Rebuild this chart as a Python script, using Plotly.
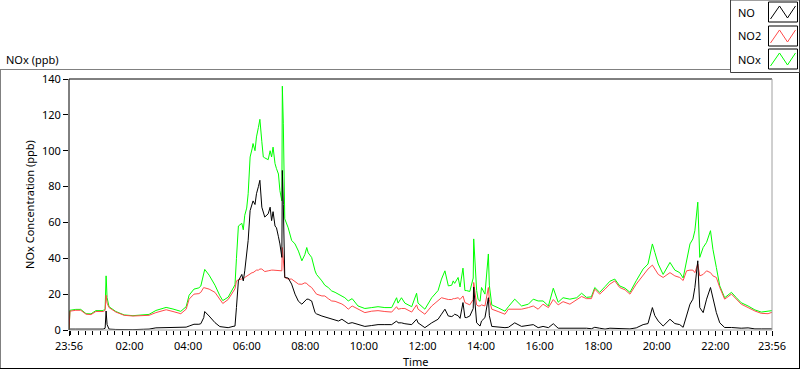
import plotly.graph_objects as go
from datetime import datetime, timedelta

# ---- data ----
times = [
    "23:56", "23:58", "00:10", "00:20", "00:31", "00:41", "00:51", "01:06", "01:10", "01:12",
    "01:14", "01:18", "01:32", "01:49", "02:07", "02:28", "02:40", "02:54", "03:15", "03:29",
    "03:45", "03:56", "04:02", "04:12", "04:22", "04:26", "04:32", "04:34", "04:43", "04:55",
    "05:05", "05:11", "05:22", "05:32", "05:36", "05:39", "05:43", "05:50", "05:53", "05:56",
    "06:00", "06:03", "06:07", "06:11", "06:13", "06:17", "06:20", "06:24", "06:27", "06:31",
    "06:34", "06:37", "06:44", "06:48", "06:51", "06:54", "06:58", "07:01", "07:05", "07:08",
    "07:12", "07:13", "07:15", "07:18", "07:25", "07:32", "07:39", "07:46", "07:53", "07:59",
    "08:03", "08:06", "08:13", "08:20", "08:23", "08:34", "08:40", "08:47", "08:54", "09:01",
    "09:08", "09:15", "09:21", "09:28", "09:36", "09:48", "10:02", "10:16", "10:29", "10:43",
    "10:57", "11:07", "11:10", "11:17", "11:24", "11:38", "11:48", "11:51", "12:05", "12:19",
    "12:32", "12:39", "12:46", "12:53", "13:00", "13:03", "13:06", "13:13", "13:17", "13:23",
    "13:27", "13:30", "13:37", "13:44", "13:45", "13:51", "13:54", "13:58", "14:01", "14:08",
    "14:15", "14:17", "14:22", "14:35", "14:49", "14:56", "15:09", "15:23", "15:37", "15:47",
    "15:57", "16:07", "16:18", "16:28", "16:38", "16:48", "17:02", "17:16", "17:26", "17:36",
    "17:46", "17:53", "18:03", "18:14", "18:24", "18:34", "18:44", "18:55", "19:05", "19:18",
    "19:32", "19:42", "19:51", "19:56", "20:03", "20:13", "20:27", "20:37", "20:47", "20:54",
    "21:01", "21:08", "21:14", "21:18", "21:24", "21:28", "21:35", "21:42", "21:50", "21:55",
    "22:02", "22:09", "22:19", "22:33", "22:43", "22:53", "23:07", "23:21", "23:34", "23:48",
    "23:56",
]

no_ppb = [
    0, 0.5, 0.5, 0.5, 0.3, 0.3, 0.5, 0.5, 1, 10.6,
    3, 0.5, 0.3, 0.2, 0.2, 0.4, 0.5, 1.2, 1.3, 1.4,
    1.3, 1.6, 2.2, 3.2, 3.2, 3.5, 6.9, 10.3, 7.8, 4.1,
    1.9, 1.6, 1.3, 2, 2.2, 12.5, 27.4, 31, 27.4, 33,
    42.4, 50, 66.6, 70, 72, 70, 76, 80, 83.5, 68.5,
    65, 63, 64.8, 68.5, 61, 66, 58, 57, 52, 48,
    40.5, 89, 70, 29.3, 29, 25.6, 20, 16, 14.4, 16.2,
    17.2, 17.2, 16.2, 9.7, 9, 7.8, 7.3, 6.9, 6, 5.4,
    5, 6, 4.8, 3.6, 4.1, 3, 2, 2.5, 3, 3,
    3, 5, 4, 4, 3.5, 3, 6, 4, 1.3, 4,
    6, 8.8, 11.6, 7.8, 7.5, 8, 8.8, 8, 6.5, 15.3,
    7, 6.9, 7.8, 12, 24, 4, 3, 2.2, 5, 6.9,
    18, 8, 2, 1.5, 1.3, 1.5, 4, 2, 2.5, 3,
    1.3, 2, 1.3, 3.5, 1, 1, 1, 1.2, 1, 1,
    0.7, 1.5, 1, 0.5, 1, 1, 1, 0.6, 0.6, 1.2,
    3, 3.6, 12.5, 8, 5, 2.2, 6, 3.6, 3, 1.5,
    8, 14.4, 17.2, 23.7, 38.6, 12.5, 9.7, 17.2, 23.7, 17,
    9.7, 4, 1.4, 1.4, 1.2, 1, 1.2, 0.6, 0.6, 0.6,
    0.6,
]

no2_ppb = [
    0, 10.5, 11, 11, 8.8, 8.6, 10.3, 10.3, 11, 19.4,
    15, 12.5, 10, 8.2, 7.8, 7.8, 8.2, 9.7, 11.3, 10.3,
    9.1, 11.6, 17.2, 20, 20.3, 21, 23.7, 23.5, 22.8, 21,
    17.2, 14.8, 17, 21.5, 23, 27.4, 28, 28.5, 28.5, 29.3,
    30, 31, 31.5, 32, 32, 33, 33.4, 33.4, 34, 34,
    33, 32.6, 33, 33.4, 33.4, 33.4, 33.4, 33.4, 33.4, 33,
    33, 46, 40, 29.3, 28.4, 28.4, 27, 25.6, 25.5, 26.3,
    26, 25, 23.7, 21, 20, 19, 19, 17.5, 16.2, 16,
    15.3, 14.5, 13.4, 11.6, 13.4, 11.6, 9.7, 10.5, 10.8, 10.3,
    10, 13, 11.6, 12, 12, 10, 14, 11.6, 8.8, 13.4,
    16.2, 18, 17.5, 17, 17, 17.5, 17.5, 18, 17, 19,
    15.3, 15, 14, 17, 26.5, 14, 13.4, 13.4, 14, 13.4,
    23.7, 17, 11.6, 10.3, 8.8, 11.6, 11.6, 11.6, 12.5, 13.4,
    11.6, 14.4, 12.5, 17, 14, 15.8, 14.4, 17, 18.7, 17.5,
    17.5, 22.8, 20, 22.8, 25.6, 27.4, 23.7, 22.4, 20, 25.6,
    30.8, 34, 36.2, 34, 31, 29.3, 32, 30.2, 29.3, 27.6,
    33, 33.4, 33.4, 32, 36.8, 30.2, 31, 33, 32, 30.2,
    29.3, 23.7, 17.2, 20, 17.2, 14.4, 12.5, 10.6, 9.3, 9.1,
    9.9,
]

nox_ppb = [
    0, 11, 11.5, 11.5, 9.1, 9, 10.8, 10.8, 12, 30.2,
    18, 13, 10.3, 8.4, 8, 8.2, 8.7, 10.9, 12.6, 11.7,
    10.4, 13, 19.4, 22.8, 23.5, 24.5, 30.6, 33.8, 30.6, 25,
    19.1, 16.4, 18.3, 23.5, 25.2, 39.9, 58, 59.5, 55.9, 64,
    68, 76, 96.5, 101, 104, 100, 107.7, 113, 117.5, 105,
    96.5, 96, 95, 100, 96.5, 102, 92.8, 90, 87, 77.8,
    72, 136, 115, 62, 57, 50, 48, 44, 38.6, 42,
    46, 43, 40.5, 33, 31, 27.4, 25, 23.7, 21.8, 21,
    20, 19, 18, 16.2, 17.5, 13.4, 12, 12.5, 13, 12.5,
    12.5, 18, 15, 18, 15, 13, 20.5, 15, 11.6, 18,
    22, 28.4, 33, 24.6, 25, 27.4, 26, 29.3, 24, 34.5,
    22, 22, 21.5, 29, 50.8, 22, 17, 16, 23.7, 20,
    42.4, 25, 14, 12.4, 10.5, 13, 17.2, 13.4, 14.4, 17.2,
    16.2, 16.2, 13.4, 23.3, 15.5, 18, 17.2, 18, 20.5, 18.2,
    18.5, 23.7, 21, 24.2, 27.2, 28.4, 24.6, 23.3, 21, 27.5,
    34, 36.8, 48, 43.3, 36.8, 31, 37.7, 33.4, 32, 29,
    38.6, 48, 50.8, 55.4, 71.3, 40.5, 46, 48.9, 55.4, 45,
    34.9, 24.6, 18, 21, 18, 15.2, 13.4, 11.2, 10, 10.4,
    10.8,
]

x_tick_labels = ["23:56", "02:00", "04:00", "06:00", "08:00", "10:00", "12:00",
                 "14:00", "16:00", "18:00", "20:00", "22:00", "23:56"]
y_ticks = [0, 20, 40, 60, 80, 100, 120, 140]

series_names = ["NO", "NO2", "NOx"]
series_colors = ["#000000", "#ff4a4a", "#00ff00"]

# ---- convert clock strings into datetimes across the day boundary ----
base = datetime(2000, 1, 1)


def to_dt(strings):
    out, day, prev = [], 0, None
    for s in strings:
        h, m = map(int, s.split(":"))
        mins = h * 60 + m
        if prev is not None and mins < prev:
            day += 1
        prev = mins
        out.append(base + timedelta(days=day, minutes=mins))
    return out


t = to_dt(times)
t_start, t_end = t[0], t[-1]
tick_dt = to_dt(x_tick_labels)
minor_ticks = [base + timedelta(days=1, minutes=15 * k) for k in range(96)]

fig = go.Figure()
# draw order: NOx under NO2 under NO
for name, vals, col in [("NOx", nox_ppb, series_colors[2]),
                        ("NO2", no2_ppb, series_colors[1]),
                        ("NO", no_ppb, series_colors[0])]:
    fig.add_trace(go.Scatter(x=t, y=vals, mode="lines", name=name,
                             line=dict(color=col, width=1), showlegend=False,
                             hoverinfo="skip"))

W, H = 800, 369
L, R, T, B = 69, 772, 79, 330


def px(x):
    return (x - L) / (R - L)


def py(y):
    return (B - y) / (B - T)


FONT = "Noto Sans"
FS = 11

fig.update_layout(
    width=W, height=H,
    margin=dict(l=L, r=W - R, t=T, b=H - B, pad=0),
    paper_bgcolor="white", plot_bgcolor="white",
    font=dict(family=FONT, size=FS, color="#000"),
    xaxis=dict(
        type="date", range=[t_start, t_end], automargin=False,
        tickmode="array", tickvals=tick_dt, ticktext=x_tick_labels,
        ticks="outside", ticklen=5, tickcolor="#000", tickwidth=1,
        ticklabelstandoff=1,
        minor=dict(tickvals=minor_ticks, ticks="outside", ticklen=4,
                   tickcolor="#000", tickwidth=1, showgrid=False),
        showgrid=False, zeroline=False, showline=False,
        tickfont=dict(size=FS, family=FONT),
    ),
    yaxis=dict(
        range=[0, 140], tickmode="array", tickvals=y_ticks, automargin=False,
        ticks="outside", ticklen=5, tickcolor="#000", tickwidth=1,
        showgrid=False, zeroline=False, showline=False,
        tickfont=dict(size=FS, family=FONT),
        title=dict(text="NOx Concentration (ppb)", font=dict(size=FS, family=FONT), standoff=5),
    ),
)

shapes = []
# plot-area frame: dark top/left, grey bottom/right
shapes.append(dict(type="line", xref="paper", yref="paper", x0=0, x1=1, y0=1, y1=1,
                   line=dict(color="#000", width=1)))
shapes.append(dict(type="line", xref="paper", yref="paper", x0=0, x1=0, y0=0, y1=1,
                   line=dict(color="#000", width=1)))
shapes.append(dict(type="line", xref="paper", yref="paper", x0=0, x1=1, y0=0, y1=0,
                   line=dict(color="#a0a0a0", width=1)))
shapes.append(dict(type="line", xref="paper", yref="paper", x0=1, x1=1, y0=0, y1=1,
                   line=dict(color="#a0a0a0", width=1)))
# outer panel frame
shapes.append(dict(type="line", xref="paper", yref="paper", x0=px(0), x1=px(730),
                   y0=py(69.5), y1=py(69.5), line=dict(color="#808080", width=1)))
shapes.append(dict(type="line", xref="paper", yref="paper", x0=px(0.5), x1=px(0.5),
                   y0=py(69.5), y1=py(368.5), line=dict(color="#808080", width=1)))
shapes.append(dict(type="line", xref="paper", yref="paper", x0=px(0), x1=px(800),
                   y0=py(368.5), y1=py(368.5), line=dict(color="#000", width=1)))
shapes.append(dict(type="line", xref="paper", yref="paper", x0=px(799.5), x1=px(799.5),
                   y0=py(0), y1=py(368.5), line=dict(color="#000", width=1)))
# legend box
shapes.append(dict(type="rect", xref="paper", yref="paper", x0=px(730.5), x1=px(799.5),
                   y0=py(72.5), y1=py(0), line=dict(color="#404040", width=1),
                   fillcolor="white"))

annotations = [
    dict(text="NOx (ppb)", xref="paper", yref="paper", x=px(4), y=py(59),
         xanchor="left", yanchor="middle", showarrow=False,
         font=dict(size=FS, family=FONT, color="#000")),
    dict(text="Time", xref="paper", yref="paper", x=px(415), y=py(361),
         xanchor="center", yanchor="middle", showarrow=False,
         font=dict(size=FS, family=FONT, color="#000")),
]

legend_rows = [(12, series_names[0], series_colors[0]),
               (36, series_names[1], series_colors[1]),
               (59, series_names[2], series_colors[2])]
for yc, name, col in legend_rows:
    annotations.append(dict(text=name, xref="paper", yref="paper", x=px(736), y=py(yc),
                            xanchor="left", yanchor="middle", showarrow=False,
                            font=dict(size=FS, family=FONT, color="#000")))
    bx0, bx1, by0, by1 = 768.5, 797.5, yc - 10, yc + 10
    shapes.append(dict(type="rect", xref="paper", yref="paper", x0=px(bx0), x1=px(bx1),
                       y0=py(by1), y1=py(by0), line=dict(color="#000", width=1),
                       fillcolor="white"))
    pts = [(bx0 + 2, by1 - 3), (bx0 + 11, by0 + 4), (bx0 + 19, by1 - 4), (bx1 - 2, by0 + 4)]
    path = "M " + " L ".join(f"{px(a):.5f},{py(b):.5f}" for a, b in pts)
    shapes.append(dict(type="path", xref="paper", yref="paper", path=path,
                       line=dict(color=col, width=1)))

fig.update_layout(shapes=shapes, annotations=annotations)
fig.write_html("out.html", config={"displayModeBar": False},
               post_script="document.body.style.margin='0px';document.body.style.padding='0px';")
